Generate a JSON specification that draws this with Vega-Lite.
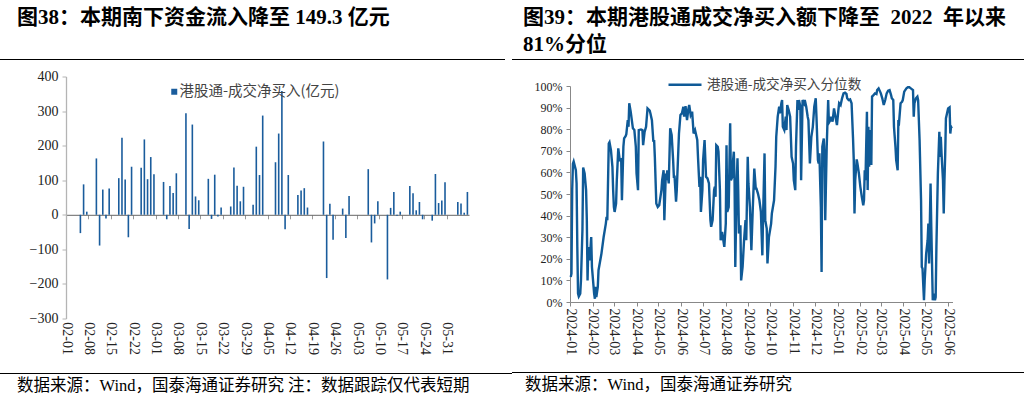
{
  "$schema": "https://vega.github.io/schema/vega-lite/v6.json",
  "padding": {"left": 0, "top": 7, "right": 0, "bottom": 0},
  "background": "white",
  "config": {"view": {"stroke": null}, "axis": {"grid": false}},
  "spacing": 0,
  "resolve": {"scale": {"color": "independent"}, "legend": {"color": "independent"}},
  "hconcat": [
    {
      "spacing": 9.5,
      "resolve": {"scale": {"color": "independent"}, "legend": {"color": "independent"}},
      "vconcat": [
        {
          "width": 505, "height": 1,
          "view": {"fill": "#000", "stroke": null},
          "data": {"values": []},
          "mark": {"type": "point", "opacity": 0},
          "encoding": {},
          "title": {"text": "图38：本期南下资金流入降至 149.3 亿元", "anchor": "start", "frame": "group", "dx": 17, "offset": 31, "font": "Liberation Serif, Noto Sans CJK SC", "fontSize": 21, "fontWeight": "bold", "color": "#000"}
        },
        {
          "spacing": 0,
          "resolve": {"scale": {"color": "independent"}, "legend": {"color": "independent"}},
          "hconcat": [
            {"width": 1, "height": 1, "data": {"values": []}, "mark": {"type": "point", "opacity": 0}, "encoding": {}},
            {
              "width": 403, "height": 242,
              "data": {"values": [
                {"d": "2025-02-05", "v": -53}, {"d": "2025-02-06", "v": 88}, {"d": "2025-02-07", "v": 9},
                {"d": "2025-02-10", "v": 163}, {"d": "2025-02-11", "v": -89}, {"d": "2025-02-12", "v": 73}, {"d": "2025-02-13", "v": -11}, {"d": "2025-02-14", "v": 76},
                {"d": "2025-02-17", "v": 106}, {"d": "2025-02-18", "v": 223}, {"d": "2025-02-19", "v": 102}, {"d": "2025-02-20", "v": -65}, {"d": "2025-02-21", "v": 139},
                {"d": "2025-02-24", "v": 136}, {"d": "2025-02-25", "v": 218}, {"d": "2025-02-26", "v": 103}, {"d": "2025-02-27", "v": 167}, {"d": "2025-02-28", "v": 117},
                {"d": "2025-03-03", "v": 95}, {"d": "2025-03-04", "v": -13}, {"d": "2025-03-05", "v": 83}, {"d": "2025-03-06", "v": 63}, {"d": "2025-03-07", "v": 120},
                {"d": "2025-03-10", "v": 294}, {"d": "2025-03-11", "v": -41}, {"d": "2025-03-12", "v": 261}, {"d": "2025-03-13", "v": 53}, {"d": "2025-03-14", "v": 42},
                {"d": "2025-03-17", "v": 104}, {"d": "2025-03-18", "v": -12}, {"d": "2025-03-19", "v": 116}, {"d": "2025-03-20", "v": -5}, {"d": "2025-03-21", "v": 21},
                {"d": "2025-03-24", "v": 24}, {"d": "2025-03-25", "v": 137}, {"d": "2025-03-26", "v": 84}, {"d": "2025-03-27", "v": 39}, {"d": "2025-03-28", "v": 81},
                {"d": "2025-03-31", "v": 29}, {"d": "2025-04-01", "v": 197}, {"d": "2025-04-02", "v": 115}, {"d": "2025-04-03", "v": 287},
                {"d": "2025-04-07", "v": 152}, {"d": "2025-04-08", "v": 235}, {"d": "2025-04-09", "v": 358}, {"d": "2025-04-10", "v": -42}, {"d": "2025-04-11", "v": 115},
                {"d": "2025-04-14", "v": 57}, {"d": "2025-04-15", "v": 70}, {"d": "2025-04-16", "v": 77}, {"d": "2025-04-17", "v": 21},
                {"d": "2025-04-22", "v": 212}, {"d": "2025-04-23", "v": -183}, {"d": "2025-04-24", "v": 32}, {"d": "2025-04-25", "v": -72},
                {"d": "2025-04-28", "v": 18}, {"d": "2025-04-29", "v": -67}, {"d": "2025-04-30", "v": 54},
                {"d": "2025-05-06", "v": 132}, {"d": "2025-05-07", "v": -80}, {"d": "2025-05-08", "v": -25}, {"d": "2025-05-09", "v": 39},
                {"d": "2025-05-12", "v": -187}, {"d": "2025-05-13", "v": 20}, {"d": "2025-05-14", "v": 66}, {"d": "2025-05-15", "v": -3}, {"d": "2025-05-16", "v": 9},
                {"d": "2025-05-19", "v": 83}, {"d": "2025-05-20", "v": 62}, {"d": "2025-05-21", "v": 13}, {"d": "2025-05-22", "v": 37}, {"d": "2025-05-23", "v": -13},
                {"d": "2025-05-26", "v": -17}, {"d": "2025-05-27", "v": 118}, {"d": "2025-05-28", "v": 34}, {"d": "2025-05-29", "v": 41}, {"d": "2025-05-30", "v": 94},
                {"d": "2025-06-03", "v": 37}, {"d": "2025-06-04", "v": 33}, {"d": "2025-06-05", "v": 6}, {"d": "2025-06-06", "v": 66}
              ]},
              "mark": {"type": "bar", "width": 1.6},
              "encoding": {
                "x": {"field": "d", "type": "temporal", "timeUnit": "utcyearmonthdate", "bandPosition": 0.5,
                  "scale": {"type": "utc", "nice": false, "domain": [{"year": 2025, "month": 2, "date": 1, "utc": true}, {"year": 2025, "month": 6, "date": 7, "utc": true}]},
                  "axis": {"title": null, "orient": "bottom", "offset": -103.7, "domainColor": "#666", "domainWidth": 1, "tickColor": "#999", "tickSize": 4,
                    "labelAngle": 90, "labelAlign": "left", "labelBaseline": "middle", "labelPadding": 103, "labelFont": "Liberation Serif", "labelFontSize": 14, "labelColor": "#222",
                    "labelExpr": "utcFormat(datum.value, '%m-%d')", "labelOverlap": false, "labelFlush": false, "minExtent": 148,
                    "values": [
                      {"year": 2025, "month": 2, "date": 1, "utc": true}, {"year": 2025, "month": 2, "date": 8, "utc": true}, {"year": 2025, "month": 2, "date": 15, "utc": true}, {"year": 2025, "month": 2, "date": 22, "utc": true},
                      {"year": 2025, "month": 3, "date": 1, "utc": true}, {"year": 2025, "month": 3, "date": 8, "utc": true}, {"year": 2025, "month": 3, "date": 15, "utc": true}, {"year": 2025, "month": 3, "date": 22, "utc": true}, {"year": 2025, "month": 3, "date": 29, "utc": true},
                      {"year": 2025, "month": 4, "date": 5, "utc": true}, {"year": 2025, "month": 4, "date": 12, "utc": true}, {"year": 2025, "month": 4, "date": 19, "utc": true}, {"year": 2025, "month": 4, "date": 26, "utc": true},
                      {"year": 2025, "month": 5, "date": 3, "utc": true}, {"year": 2025, "month": 5, "date": 10, "utc": true}, {"year": 2025, "month": 5, "date": 17, "utc": true}, {"year": 2025, "month": 5, "date": 24, "utc": true}, {"year": 2025, "month": 5, "date": 31, "utc": true}
                    ]}},
                "y": {"field": "v", "type": "quantitative", "scale": {"domain": [-300, 400], "nice": false, "zero": false},
                  "axis": {"title": null, "values": [-300, -200, -100, 0, 100, 200, 300, 400], "labelFont": "Liberation Serif", "labelFontSize": 14, "labelColor": "#222",
                    "domainColor": "#b4b4b4", "domainWidth": 1.3, "tickColor": "#b4b4b4", "tickSize": 4, "labelPadding": 4, "minExtent": 65, "maxExtent": 65}},
                "color": {"datum": "港股通-成交净买入(亿元)", "scale": {"range": ["#1a5c9c"]},
                  "legend": {"title": null, "orient": "none", "legendX": 101, "legendY": 8, "symbolType": "square", "symbolSize": 36, "symbolStrokeWidth": 0, "padding": 0,
                    "labelFont": "Noto Sans CJK SC", "labelFontSize": 14.5, "labelColor": "#444", "labelOffset": -2}}
              }
            }
          ]
        },
        {
          "width": 512, "height": 1,
          "view": {"fill": "#000", "stroke": null},
          "data": {"values": []},
          "mark": {"type": "point", "opacity": 0},
          "encoding": {},
          "title": {"text": "数据来源：Wind，国泰海通证券研究 注：数据跟踪仅代表短期", "orient": "bottom", "anchor": "start", "frame": "group", "dx": 17, "offset": 4, "font": "Liberation Serif, Noto Sans CJK SC", "fontSize": 16.5, "fontWeight": "normal", "color": "#000"}
        }
      ]
    },
    {
      "spacing": 6,
      "resolve": {"scale": {"color": "independent"}, "legend": {"color": "independent"}},
      "vconcat": [
        {
          "width": 512, "height": 1,
          "view": {"fill": "#000", "stroke": null},
          "data": {"values": []},
          "mark": {"type": "point", "opacity": 0},
          "encoding": {},
          "title": {"text": ["图39：本期港股通成交净买入额下降至 \u00a02022 \u00a0年以来", "81%分位"], "anchor": "start", "frame": "group", "dx": 11, "offset": 4, "lineHeight": 27, "font": "Liberation Serif, Noto Sans CJK SC", "fontSize": 21, "fontWeight": "bold", "color": "#000"}
        },
        {
          "spacing": 0,
          "resolve": {"scale": {"color": "independent"}, "legend": {"color": "independent"}},
          "hconcat": [
            {"width": 1, "height": 1, "data": {"values": []}, "mark": {"type": "point", "opacity": 0}, "encoding": {}},
            {
              "width": 382.5, "height": 216,
              "data": {"values": [
                {"d":"2024-01-02","p":11.6},{"d":"2024-01-03","p":13.1},{"d":"2024-01-04","p":51.8},{"d":"2024-01-05","p":64},{"d":"2024-01-06","p":65},{"d":"2024-01-09","p":61},{"d":"2024-01-10","p":54.9},{"d":"2024-01-11","p":25.5},{"d":"2024-01-12","p":3.9},{"d":"2024-01-13","p":2.6},{"d":"2024-01-15","p":3.9},{"d":"2024-01-16","p":10},{"d":"2024-01-18","p":33.2},{"d":"2024-01-19","p":62.3},{"d":"2024-01-21","p":59.5},{"d":"2024-01-23","p":51.8},{"d":"2024-01-24","p":37.9},{"d":"2024-01-25","p":10},{"d":"2024-01-26","p":25.5},{"d":"2024-01-28","p":19.3},{"d":"2024-01-30","p":30.1},{"d":"2024-01-31","p":16.2},
                {"d":"2024-02-03","p":3.9},{"d":"2024-02-04","p":1.5},{"d":"2024-02-05","p":7},{"d":"2024-02-06","p":2.3},{"d":"2024-02-08","p":7},{"d":"2024-02-09","p":14.7},{"d":"2024-02-13","p":22.4},{"d":"2024-02-16","p":30.1},{"d":"2024-02-19","p":36.3},{"d":"2024-02-20","p":39.4},{"d":"2024-02-21","p":37.9},{"d":"2024-02-23","p":73.4},{"d":"2024-02-24","p":74},{"d":"2024-02-26","p":70.3},{"d":"2024-02-28","p":62.6},{"d":"2024-02-29","p":51.8},
                {"d":"2024-03-01","p":44},{"d":"2024-03-02","p":41.7},{"d":"2024-03-04","p":45.6},{"d":"2024-03-05","p":56.4},{"d":"2024-03-07","p":71.1},{"d":"2024-03-09","p":65.7},{"d":"2024-03-11","p":66},{"d":"2024-03-12","p":47.1},{"d":"2024-03-14","p":71.9},{"d":"2024-03-15","p":75.7},{"d":"2024-03-17","p":76.8},{"d":"2024-03-18","p":77.7},{"d":"2024-03-20","p":84.2},{"d":"2024-03-21","p":81.1},{"d":"2024-03-22","p":92},{"d":"2024-03-24","p":88.1},{"d":"2024-03-27","p":80.4},{"d":"2024-03-29","p":79.6},{"d":"2024-03-31","p":71.9},
                {"d":"2024-04-01","p":59.5},{"d":"2024-04-03","p":51.8},{"d":"2024-04-04","p":79.6},{"d":"2024-04-07","p":79.9},{"d":"2024-04-09","p":79.6},{"d":"2024-04-10","p":72.6},{"d":"2024-04-12","p":78.8},{"d":"2024-04-14","p":81.1},{"d":"2024-04-16","p":89.6},{"d":"2024-04-19","p":88.6},{"d":"2024-04-20","p":87.3},{"d":"2024-04-22","p":84.2},{"d":"2024-04-24","p":74.2},{"d":"2024-04-25","p":75},{"d":"2024-04-26","p":67.2},{"d":"2024-04-28","p":45.6},{"d":"2024-04-30","p":44},
                {"d":"2024-05-02","p":44.8},{"d":"2024-05-05","p":51.8},{"d":"2024-05-06","p":56.4},{"d":"2024-05-08","p":61},{"d":"2024-05-09","p":37.9},{"d":"2024-05-11","p":59.5},{"d":"2024-05-12","p":56.4},{"d":"2024-05-13","p":61},{"d":"2024-05-15","p":54.9},{"d":"2024-05-17","p":80.4},{"d":"2024-05-19","p":77.3},{"d":"2024-05-21","p":65.7},{"d":"2024-05-22","p":58},{"d":"2024-05-23","p":58},{"d":"2024-05-25","p":46.4},{"d":"2024-05-26","p":51.8},{"d":"2024-05-29","p":78},{"d":"2024-05-31","p":86.6},
                {"d":"2024-06-02","p":87.3},{"d":"2024-06-04","p":90.4},{"d":"2024-06-05","p":85.8},{"d":"2024-06-07","p":90.7},{"d":"2024-06-09","p":84.2},{"d":"2024-06-11","p":89.6},{"d":"2024-06-12","p":91.2},{"d":"2024-06-14","p":86.6},{"d":"2024-06-16","p":88.1},{"d":"2024-06-18","p":78},{"d":"2024-06-20","p":79.6},{"d":"2024-06-23","p":75},{"d":"2024-06-24","p":67.2},{"d":"2024-06-26","p":53.3},{"d":"2024-06-27","p":58},{"d":"2024-06-28","p":41.7},{"d":"2024-06-30","p":51.8},
                {"d":"2024-07-01","p":65.7},{"d":"2024-07-03","p":75},{"d":"2024-07-05","p":58},{"d":"2024-07-07","p":57.2},{"d":"2024-07-09","p":54.9},{"d":"2024-07-11","p":37.9},{"d":"2024-07-12","p":34.8},{"d":"2024-07-14","p":37.9},{"d":"2024-07-16","p":51.8},{"d":"2024-07-17","p":53.3},{"d":"2024-07-18","p":48.7},{"d":"2024-07-19","p":72.6},{"d":"2024-07-21","p":71.9},{"d":"2024-07-22","p":69.6},{"d":"2024-07-24","p":51.8},{"d":"2024-07-25","p":28.6},{"d":"2024-07-27","p":32.5},{"d":"2024-07-28","p":30.1},{"d":"2024-07-30","p":25.5},
                {"d":"2024-08-01","p":36.3},{"d":"2024-08-02","p":72.6},{"d":"2024-08-03","p":41.7},{"d":"2024-08-05","p":44},{"d":"2024-08-07","p":82.7},{"d":"2024-08-08","p":56.4},{"d":"2024-08-10","p":58},{"d":"2024-08-11","p":65.7},{"d":"2024-08-12","p":69.6},{"d":"2024-08-13","p":56.4},{"d":"2024-08-14","p":16.2},{"d":"2024-08-16","p":54.9},{"d":"2024-08-17","p":66.5},{"d":"2024-08-18","p":51.8},{"d":"2024-08-19","p":31.7},{"d":"2024-08-21","p":35.5},{"d":"2024-08-22","p":10},{"d":"2024-08-24","p":16.2},{"d":"2024-08-26","p":28.6},{"d":"2024-08-28","p":37.9},{"d":"2024-08-29","p":28.6},{"d":"2024-08-31","p":67.2},
                {"d":"2024-09-01","p":54.9},{"d":"2024-09-03","p":44},{"d":"2024-09-05","p":24},{"d":"2024-09-07","p":44},{"d":"2024-09-09","p":61.8},{"d":"2024-09-11","p":52.5},{"d":"2024-09-12","p":52.5},{"d":"2024-09-14","p":50.2},{"d":"2024-09-16","p":47.1},{"d":"2024-09-18","p":41.7},{"d":"2024-09-20","p":21.6},{"d":"2024-09-21","p":39.4},{"d":"2024-09-23","p":68.8},{"d":"2024-09-24","p":37.9},{"d":"2024-09-26","p":34},{"d":"2024-09-27","p":17.8},{"d":"2024-09-29","p":30.1},
                {"d":"2024-10-02","p":36.3},{"d":"2024-10-03","p":41},{"d":"2024-10-06","p":47.1},{"d":"2024-10-08","p":62.6},{"d":"2024-10-09","p":76.5},{"d":"2024-10-11","p":85.8},{"d":"2024-10-13","p":90.4},{"d":"2024-10-14","p":87.3},{"d":"2024-10-16","p":92},{"d":"2024-10-17","p":93.5},{"d":"2024-10-18","p":81.1},{"d":"2024-10-20","p":79.6},{"d":"2024-10-22","p":85.8},{"d":"2024-10-23","p":79.6},{"d":"2024-10-24","p":91.2},{"d":"2024-10-26","p":88.9},{"d":"2024-10-28","p":85.8},{"d":"2024-10-30","p":67.2},
                {"d":"2024-11-01","p":64.1},{"d":"2024-11-02","p":56.4},{"d":"2024-11-04","p":51.8},{"d":"2024-11-05","p":71.9},{"d":"2024-11-07","p":93.5},{"d":"2024-11-08","p":88.9},{"d":"2024-11-09","p":93.5},{"d":"2024-11-11","p":90.4},{"d":"2024-11-12","p":56.4},{"d":"2024-11-14","p":93.5},{"d":"2024-11-16","p":92},{"d":"2024-11-17","p":93.5},{"d":"2024-11-19","p":90.4},{"d":"2024-11-21","p":85.8},{"d":"2024-11-22","p":84.2},{"d":"2024-11-24","p":64.1},{"d":"2024-11-26","p":76.5},{"d":"2024-11-28","p":81.1},{"d":"2024-11-30","p":90.4},
                {"d":"2024-12-02","p":94.3},{"d":"2024-12-03","p":85.8},{"d":"2024-12-05","p":65.7},{"d":"2024-12-06","p":64.1},{"d":"2024-12-07","p":68.8},{"d":"2024-12-09","p":44},{"d":"2024-12-10","p":13.9},{"d":"2024-12-11","p":71.9},{"d":"2024-12-13","p":75.7},{"d":"2024-12-14","p":67.2},{"d":"2024-12-15","p":37.9},{"d":"2024-12-17","p":71.9},{"d":"2024-12-18","p":82.7},{"d":"2024-12-19","p":93.5},{"d":"2024-12-20","p":83},{"d":"2024-12-22","p":84.2},{"d":"2024-12-23","p":85.8},{"d":"2024-12-25","p":83.5},{"d":"2024-12-27","p":89.6},{"d":"2024-12-29","p":85.8},{"d":"2024-12-31","p":81.9},
                {"d":"2025-01-02","p":88.9},{"d":"2025-01-03","p":92},{"d":"2025-01-05","p":91.2},{"d":"2025-01-07","p":94.3},{"d":"2025-01-09","p":96.6},{"d":"2025-01-11","p":96.9},{"d":"2025-01-13","p":96.3},{"d":"2025-01-14","p":94.3},{"d":"2025-01-16","p":93.5},{"d":"2025-01-18","p":93.8},{"d":"2025-01-20","p":92},{"d":"2025-01-22","p":75.7},{"d":"2025-01-23","p":65.7},{"d":"2025-01-24","p":41},{"d":"2025-01-25","p":56.4},{"d":"2025-01-27","p":66},{"d":"2025-01-28","p":64.1},{"d":"2025-01-30","p":59.5},
                {"d":"2025-02-01","p":53.3},{"d":"2025-02-03","p":48.7},{"d":"2025-02-05","p":44.8},{"d":"2025-02-06","p":47.1},{"d":"2025-02-07","p":61},{"d":"2025-02-08","p":56.4},{"d":"2025-02-10","p":88.1},{"d":"2025-02-11","p":51.8},{"d":"2025-02-12","p":81.1},{"d":"2025-02-13","p":62.6},{"d":"2025-02-14","p":79.6},{"d":"2025-02-16","p":63.4},{"d":"2025-02-17","p":95.1},{"d":"2025-02-19","p":95.8},{"d":"2025-02-21","p":96.6},{"d":"2025-02-23","p":96.3},{"d":"2025-02-24","p":98.1},{"d":"2025-02-26","p":98.9},{"d":"2025-02-28","p":97.4},
                {"d":"2025-03-01","p":96.6},{"d":"2025-03-03","p":94.3},{"d":"2025-03-05","p":91.2},{"d":"2025-03-07","p":93.5},{"d":"2025-03-09","p":96.6},{"d":"2025-03-11","p":97.8},{"d":"2025-03-13","p":98.1},{"d":"2025-03-15","p":95.8},{"d":"2025-03-16","p":94.3},{"d":"2025-03-18","p":93.5},{"d":"2025-03-19","p":81.1},{"d":"2025-03-21","p":71.9},{"d":"2025-03-22","p":65.7},{"d":"2025-03-24","p":61},{"d":"2025-03-25","p":84.2},{"d":"2025-03-26","p":83.5},{"d":"2025-03-28","p":92},{"d":"2025-03-30","p":92.7},{"d":"2025-03-31","p":93.5},
                {"d":"2025-04-02","p":97.4},{"d":"2025-04-05","p":98.9},{"d":"2025-04-07","p":99.4},{"d":"2025-04-09","p":99.4},{"d":"2025-04-11","p":98.9},{"d":"2025-04-14","p":98.1},{"d":"2025-04-15","p":85.8},{"d":"2025-04-16","p":92},{"d":"2025-04-18","p":94.3},{"d":"2025-04-20","p":95.1},{"d":"2025-04-21","p":93.5},{"d":"2025-04-23","p":75},{"d":"2025-04-25","p":47.1},{"d":"2025-04-26","p":16.2},{"d":"2025-04-27","p":15.5},{"d":"2025-04-29","p":0.8},{"d":"2025-04-30","p":10},
                {"d":"2025-05-02","p":22.4},{"d":"2025-05-04","p":28.6},{"d":"2025-05-05","p":36.3},{"d":"2025-05-06","p":17.8},{"d":"2025-05-08","p":54.9},{"d":"2025-05-09","p":34.8},{"d":"2025-05-11","p":0.8},{"d":"2025-05-12","p":3.9},{"d":"2025-05-14","p":0.8},{"d":"2025-05-15","p":2.3},{"d":"2025-05-16","p":25.5},{"d":"2025-05-18","p":59.5},{"d":"2025-05-20","p":78.8},{"d":"2025-05-21","p":67.2},{"d":"2025-05-22","p":76.5},{"d":"2025-05-23","p":68.8},{"d":"2025-05-25","p":56.4},{"d":"2025-05-26","p":41},{"d":"2025-05-27","p":56.4},{"d":"2025-05-28","p":68},{"d":"2025-05-29","p":85},{"d":"2025-05-31","p":88.1},
                {"d":"2025-06-01","p":89.6},{"d":"2025-06-03","p":90.1},{"d":"2025-06-04","p":78},{"d":"2025-06-05","p":81.1},{"d":"2025-06-06","p":80.4}
              ]},
              "mark": {"type": "line", "strokeWidth": 2.4},
              "encoding": {
                "x": {"field": "d", "type": "temporal",
                  "scale": {"type": "utc", "nice": false, "domain": [{"year": 2024, "month": 1, "date": 1, "utc": true}, {"year": 2025, "month": 6, "date": 7, "utc": true}]},
                  "axis": {"title": null, "domainColor": "#888", "domainWidth": 1, "tickColor": "#888", "tickSize": 4,
                    "labelAngle": 90, "labelAlign": "left", "labelBaseline": "middle", "labelPadding": 2, "labelFont": "Liberation Serif", "labelFontSize": 14, "labelColor": "#222",
                    "labelExpr": "utcFormat(datum.value, '%Y-%m')", "labelOverlap": false, "labelFlush": false, "minExtent": 64,
                    "values": [
                      {"year": 2024, "month": 1, "date": 1, "utc": true}, {"year": 2024, "month": 2, "date": 1, "utc": true}, {"year": 2024, "month": 3, "date": 1, "utc": true}, {"year": 2024, "month": 4, "date": 1, "utc": true},
                      {"year": 2024, "month": 5, "date": 1, "utc": true}, {"year": 2024, "month": 6, "date": 1, "utc": true}, {"year": 2024, "month": 7, "date": 1, "utc": true}, {"year": 2024, "month": 8, "date": 1, "utc": true},
                      {"year": 2024, "month": 9, "date": 1, "utc": true}, {"year": 2024, "month": 10, "date": 1, "utc": true}, {"year": 2024, "month": 11, "date": 1, "utc": true}, {"year": 2024, "month": 12, "date": 1, "utc": true},
                      {"year": 2025, "month": 1, "date": 1, "utc": true}, {"year": 2025, "month": 2, "date": 1, "utc": true}, {"year": 2025, "month": 3, "date": 1, "utc": true}, {"year": 2025, "month": 4, "date": 1, "utc": true},
                      {"year": 2025, "month": 5, "date": 1, "utc": true}, {"year": 2025, "month": 6, "date": 1, "utc": true}
                    ]}},
                "y": {"field": "p", "type": "quantitative", "scale": {"domain": [0, 100], "nice": false},
                  "axis": {"title": null, "values": [0, 10, 20, 30, 40, 50, 60, 70, 80, 90, 100], "labelExpr": "datum.value + '%'", "labelFont": "Liberation Serif", "labelFontSize": 12, "labelColor": "#222",
                    "domainColor": "#888", "domainWidth": 1, "tickColor": "#888", "tickSize": 4, "labelPadding": 4, "minExtent": 56.5, "maxExtent": 56.5}},
                "color": {"datum": "港股通-成交净买入分位数", "scale": {"range": ["#0f5a97"]},
                  "legend": {"title": null, "orient": "none", "legendX": 97, "legendY": -19.2, "symbolType": "stroke", "symbolSize": 1089, "symbolStrokeWidth": 2.5, "padding": 0,
                    "labelFont": "Noto Sans CJK SC", "labelFontSize": 13.6, "labelColor": "#444", "labelOffset": 4}}
              }
            }
          ]
        },
        {
          "width": 512, "height": 1,
          "view": {"fill": "#000", "stroke": null},
          "data": {"values": []},
          "mark": {"type": "point", "opacity": 0},
          "encoding": {},
          "title": {"text": "数据来源：Wind，国泰海通证券研究", "orient": "bottom", "anchor": "start", "frame": "group", "dx": 13, "offset": 4, "font": "Liberation Serif, Noto Sans CJK SC", "fontSize": 16.5, "fontWeight": "normal", "color": "#000"}
        }
      ]
    }
  ]
}
